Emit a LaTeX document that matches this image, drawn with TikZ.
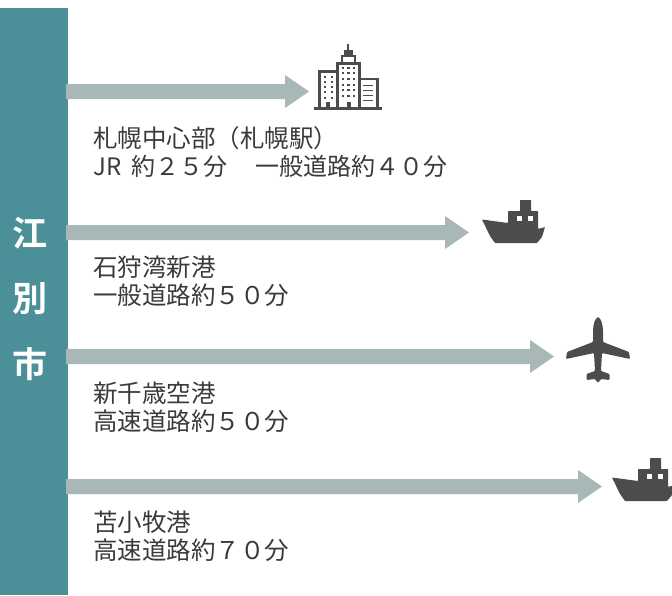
\documentclass[tikz,border=0pt]{standalone}
\usepackage{fontspec}
\setmainfont{Noto Sans CJK JP}
\newfontfamily\sidefont{Noto Sans CJK JP Bold}
\definecolor{teal1}{HTML}{4B8F98}
\definecolor{arr}{HTML}{A8B8B6}
\definecolor{ic}{HTML}{4A4C4E}
\definecolor{tx}{HTML}{3A3A3A}
\tikzset{x=1pt,y=-1pt,
 lab/.style={anchor=north west,inner sep=0pt,text=tx,font=\fontsize{24.5}{28}\selectfont,align=left},
 side/.style={text=white,inner sep=0pt,font=\fontsize{35}{35}\selectfont\sidefont}}
\newcommand{\flowarrow}[3]{% head base x, y, tip x
 \fill[arr] (66,#2-7.5) -- (#1,#2-7.5) -- (#1,#2-16.5) -- (#3,#2) -- (#1,#2+16.5) -- (#1,#2+7.5) -- (66,#2+7.5) -- cycle;}
\newcommand{\shipicon}[2]{\begin{scope}[shift={(#1,#2)}]
 \fill[ic,rounded corners=0.7pt] (0,19.5) -- (26,23) -- (26,11) -- (38,11) -- (38,0) -- (49,0) -- (49,11) -- (56,11) -- (56,29) -- (63,27) -- (60,37) -- (55,43) -- (13,43) -- (8,36) -- cycle;
 \fill[white] (35,16) rectangle (40,21);
 \fill[white] (46,16) rectangle (51,21);
 \end{scope}}
\begin{document}
\begin{tikzpicture}
\useasboundingbox (0,0) rectangle (672,595);
\fill[white] (0,0) rectangle (672,595);
\fill[teal1] (0,8) rectangle (68,595);
\node[side] (c1) at (30,233) {江};
\node[side] (c2) at (30,299) {別};
\node[side] (c3) at (30,364) {市};
\flowarrow{285}{91.5}{309}
\flowarrow{445}{232.5}{469}
\flowarrow{530}{356.5}{554}
\flowarrow{578}{486.5}{602}
\node[lab] (t1) at (93,126) {札幌中心部（札幌駅）\\{\fontsize{24}{28}\selectfont JR\hspace{5pt} 約２５分\hspace{4pt}　一般道路約４０分}};
\node[lab] (t2) at (93,256) {石狩湾新港\\一般道路約５０分};
\node[lab] (t3) at (93,382) {新千歳空港\\高速道路約５０分};
\node[lab] (t4) at (93,511) {苫小牧港\\高速道路約７０分};
\begin{scope}[ic]
 \fill (314,106.7) rectangle (382,109.5);
 \draw[line width=2.6pt] (319.3,108) -- (319.3,71.3) -- (337,71.3);
 \draw[line width=2.6pt] (337.5,108) -- (337.5,63.3) -- (359.5,63.3) -- (359.5,108);
 \draw[line width=2.6pt] (360,78.8) -- (377.3,78.8) -- (377.3,108);
 \draw[line width=2pt] (342,63) -- (342,55.5) -- (355,55.5) -- (355,63);
 \fill (344,50) rectangle (353,55);
 \fill (347.3,44) rectangle (349.3,51);
 \foreach \xx in {343,348.5,354}{\foreach \yy in {68,73,79,85,90,96}{\fill (\xx-1.2,\yy-1.2) rectangle +(2.6,2.6);}}
 \foreach \xx in {325,332}{\foreach \yy in {77,82,87,92,98}{\fill (\xx-1.2,\yy-1.2) rectangle +(2.6,2.6);}}
 \foreach \yy in {85,90,95,100}{\draw[line width=1pt] (363,\yy) -- (373,\yy);}
 \fill (326,102) rectangle (330,108);
 \fill (346.5,102) rectangle (350.5,108);
\end{scope}
\shipicon{482}{200}
\shipicon{612}{458}
% plane
\fill[ic,rounded corners=1pt] (598,318) .. controls (595.5,318) and (593,324) .. (593,332) -- (593,342) -- (567,352) -- (566,359) -- (594,353) -- (595,371) -- (586.5,374) -- (586.5,380) -- (595,379) -- (598,383) -- (601,379) -- (609.5,380) -- (609.5,374) -- (601,371) -- (602,353) -- (630,359) -- (629,352) -- (603,342) -- (603,332) .. controls (603,324) and (600.5,318) .. (598,318) -- cycle;
\end{tikzpicture}
\end{document}
